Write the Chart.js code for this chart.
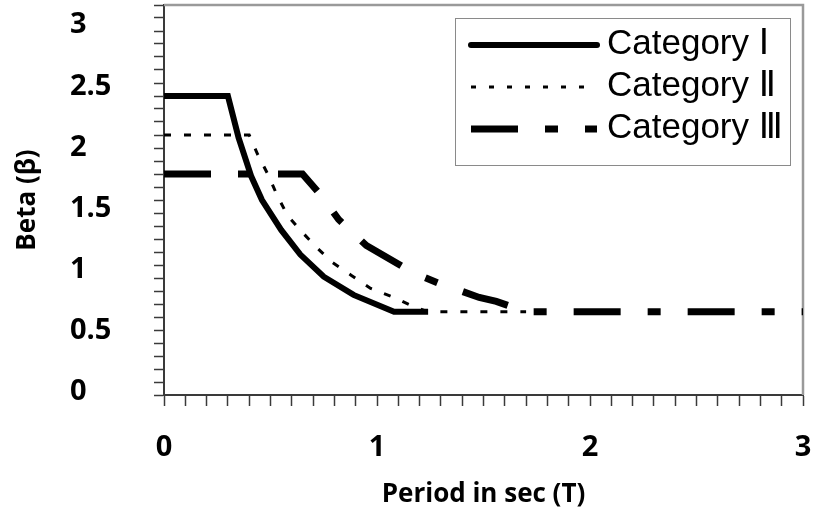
<!DOCTYPE html>
<html>
<head>
<meta charset="utf-8">
<script src="https://cdn.jsdelivr.net/npm/chart.js@4"></script>
<style>
  html, body { margin: 0; padding: 0; background: #fff; }
  #wrap { width: 817px; height: 512px; }
</style>
</head>
<body>
<div id="wrap"><canvas id="chart" width="817" height="512"></canvas></div>
<script>
// ── Data ─────────────────────────────────────────────────────────────────────
const seriesNames = ["Category Ⅰ", "Category Ⅱ", "Category Ⅲ"];

const catIPeriod = [0, 0.30, 0.35, 0.41, 0.46, 0.55, 0.64, 0.75, 0.89, 1.08, 1.24];
const catIBeta   = [2.30, 2.30, 1.98, 1.68, 1.50, 1.27, 1.08, 0.91, 0.77, 0.64, 0.64];

const catIIPeriod = [0, 0.40, 0.44, 0.49, 0.53, 0.58, 0.65, 0.72, 0.79, 0.88, 0.97, 1.08, 1.17, 1.24, 1.70];
const catIIBeta   = [2.00, 2.00, 1.85, 1.69, 1.54, 1.38, 1.25, 1.13, 1.02, 0.92, 0.82, 0.75, 0.68, 0.64, 0.64];

const catIIIPeriod = [0, 0.65, 0.73, 0.82, 0.95, 1.17, 1.29, 1.36, 1.48, 1.56, 1.70, 3.00];
const catIIIBeta   = [1.70, 1.70, 1.55, 1.35, 1.15, 0.94, 0.86, 0.82, 0.75, 0.72, 0.64, 0.64];

const xTickLabels = ["0", "1", "2", "3"];
const yTickValues = [0, 0.5, 1, 1.5, 2, 2.5, 3];
const yTickLabels = ["0", "0.5", "1", "1.5", "2", "2.5", "3"];

const xTitle = "Period in sec (T)";
const yTitle = "Beta (β)";

// ── helpers ──────────────────────────────────────────────────────────────────
const toPoints = (xs, ys) => xs.map((x, i) => ({ x: x, y: ys[i] }));
const AXIS_COLOR = "#3a3a3a";
const boldFont = (size) => ({ family: "'Open Sans', 'DejaVu Sans', sans-serif", size: size, weight: "bold" });

// scales must not push the plot area in with label overhang
const noOverhang = (scale) => {
    scale.paddingLeft = 0; scale.paddingRight = 0;
    scale.paddingTop = 0; scale.paddingBottom = 0;
};

// legend dash patterns are a bit tighter than the plotted ones
const legendDash = [[], [5, 13], [47, 27, 13, 27]];

// light grey frame on top / right of the plot
const framePlugin = {
    id: "frame",
    beforeDatasetsDraw(chart) {
        const { ctx, chartArea: a } = chart;
        ctx.save();
        ctx.strokeStyle = "#9a9a9a";
        ctx.lineWidth = 2.5;
        ctx.beginPath();
        ctx.moveTo(a.left, a.top);
        ctx.lineTo(a.right, a.top);
        ctx.lineTo(a.right, a.bottom);
        ctx.stroke();
        ctx.restore();
    }
};

// boxed legend inside the top-right corner of the plot
const boxLegend = {
    id: "boxLegend",
    afterDraw(chart) {
        const { ctx, chartArea: a } = chart;
        const boxL = a.right - 348, boxT = a.top + 13, boxW = 335, boxH = 147;
        ctx.save();
        ctx.strokeStyle = "#8a8a8a";
        ctx.lineWidth = 1;
        ctx.strokeRect(boxL + 0.5, boxT + 0.5, boxW, boxH);

        chart.data.datasets.forEach((ds, i) => {
            const y = boxT + 27 + i * 42;
            ctx.strokeStyle = ds.borderColor;
            ctx.lineWidth = ds.borderWidth;
            ctx.lineCap = i === 0 ? "round" : "butt";
            ctx.setLineDash(legendDash[i]);
            ctx.beginPath();
            ctx.moveTo(boxL + 16, y);
            ctx.lineTo(boxL + 142, y);
            ctx.stroke();

            ctx.setLineDash([]);
            ctx.fillStyle = "#000";
            ctx.font = "35px 'Liberation Sans', 'DejaVu Sans', sans-serif";
            ctx.textBaseline = "alphabetic";
            ctx.textAlign = "left";
            ctx.fillText(ds.label, boxL + 152, y + 9);
        });
        ctx.restore();
    }
};

// ── Chart ────────────────────────────────────────────────────────────────────
new Chart(document.getElementById("chart").getContext("2d"), {
    type: "line",
    data: {
        datasets: [
            {
                label: seriesNames[0],
                data: toPoints(catIPeriod, catIBeta),
                borderColor: "#000",
                borderWidth: 6,
                pointRadius: 0,
                tension: 0,
            },
            {
                label: seriesNames[1],
                data: toPoints(catIIPeriod, catIIBeta),
                borderColor: "#000",
                borderWidth: 3,
                borderDash: [7, 13],
                pointRadius: 0,
                tension: 0,
            },
            {
                label: seriesNames[2],
                data: toPoints(catIIIPeriod, catIIIBeta),
                borderColor: "#000",
                borderWidth: 7,
                borderDash: [47, 27, 13, 27],
                pointRadius: 0,
                tension: 0,
            }
        ]
    },
    options: {
        responsive: false,
        animation: false,
        layout: { padding: { top: 5, right: 14, left: 0, bottom: 0 } },
        plugins: {
            legend: { display: false },
            tooltip: { enabled: false }
        },
        scales: {
            x: {
                type: "linear",
                position: "bottom",
                min: 0,
                max: 3,
                grid: { drawOnChartArea: false, color: AXIS_COLOR, tickLength: 11, tickWidth: 1.5 },
                border: { color: AXIS_COLOR, width: 2 },
                ticks: {
                    stepSize: 0.1,
                    autoSkip: false,
                    maxRotation: 0,
                    padding: 24,
                    color: "#000",
                    font: boldFont(29),
                    callback: (v, i) => (i % 10 === 0 ? xTickLabels[i / 10] : "")
                },
                title: { display: true, text: xTitle, color: "#000", font: boldFont(26), padding: { top: 0, bottom: 2 } },
                afterFit: (scale) => { scale.height = 117; noOverhang(scale); }
            },
            // tick marks of the value axis (every 0.1)
            y: {
                type: "linear",
                position: "left",
                weight: 1,
                min: 0,
                max: 3,
                grid: { drawOnChartArea: false, color: AXIS_COLOR, tickLength: 10, tickWidth: 1.5 },
                border: { color: AXIS_COLOR, width: 2 },
                ticks: { stepSize: 0.1, autoSkip: false, callback: () => "" },
                afterFit: (scale) => { scale.width = 14; noOverhang(scale); }
            },
            // the printed tick labels sit a little off the tick marks in the figure
            yLab: {
                type: "linear",
                position: "left",
                weight: 2,
                min: -0.024,
                max: 3.165,
                grid: { display: false, drawTicks: false },
                border: { display: false },
                afterBuildTicks: (scale) => { scale.ticks = yTickValues.map(v => ({ value: v })); },
                ticks: {
                    crossAlign: "far",
                    color: "#000",
                    font: boldFont(29),
                    callback: (v) => yTickLabels[yTickValues.indexOf(v)]
                },
                afterFit: (scale) => { scale.width = 80; noOverhang(scale); }
            },
            yTitle: {
                type: "linear",
                position: "left",
                weight: 3,
                min: 0,
                max: 1,
                grid: { display: false, drawTicks: false },
                border: { display: false },
                ticks: { display: false },
                title: { display: true, text: yTitle, color: "#000", font: boldFont(26), padding: { top: 12, bottom: 0 } },
                afterFit: (scale) => { scale.width = 70; noOverhang(scale); }
            }
        }
    },
    plugins: [framePlugin, boxLegend]
});
</script>
</body>
</html>
